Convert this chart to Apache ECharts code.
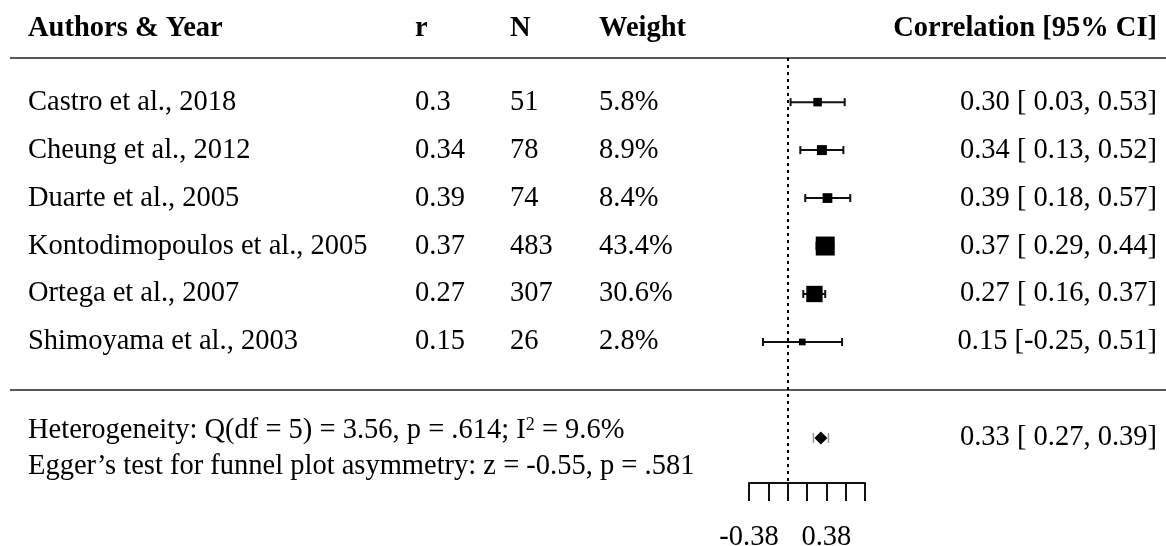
<!DOCTYPE html>
<html>
<head>
<meta charset="utf-8">
<script src="https://cdn.jsdelivr.net/npm/echarts@6/dist/echarts.min.js"></script>
<style>
  html, body { margin: 0; padding: 0; background: #fff; }
  #main { width: 1166px; height: 546px; }
</style>
</head>
<body>
<div id="main"></div>
<script>
// 数据
const studies = ['Castro et al., 2018', 'Cheung et al., 2012', 'Duarte et al., 2005',
                 'Kontodimopoulos et al., 2005', 'Ortega et al., 2007', 'Shimoyama et al., 2003']
const rValues = [0.3, 0.34, 0.39, 0.37, 0.27, 0.15]
const sampleSizes = [51, 78, 74, 483, 307, 26]
const weights = [5.8, 8.9, 8.4, 43.4, 30.6, 2.8]
const ciLower = [0.03, 0.13, 0.18, 0.29, 0.16, -0.25]
const ciUpper = [0.53, 0.52, 0.57, 0.44, 0.37, 0.51]
const pooled = [0.33, 0.27, 0.39]   // estimate, lower, upper
const headers = ['Authors & Year', 'r', 'N', 'Weight', 'Correlation [95% CI]']
const heterogeneityText = 'Heterogeneity: Q(df = 5) = 3.56, p = .614; I{sup|2} = 9.6%'
const eggerText = 'Egger\u2019s test for funnel plot asymmetry: z = -0.55, p = .581'
// x axis is on the Fisher z scale, labels are back-transformed
const axisTicks = [-0.4, -0.2, 0, 0.2, 0.4, 0.6, 0.8]
const axisTickLabels = ['-0.38', '', '', '', '0.38', '', '']

const FONT = "'Liberation Serif', 'Times New Roman', serif"
const FS = 28.5
const colX = [28, 415, 510, 599, 1157]
const headerRow = -1.53
const sepRow = 6
const summaryRow = 7

const fz = v => Math.atanh(v)
const fmt = v => (v < 0 ? '' : ' ') + v.toFixed(2)
const ciText = (e, l, h) => e.toFixed(2) + ' [' + fmt(l) + ', ' + h.toFixed(2) + ']'

let myChart = echarts.init(document.getElementById('main'))

const studyData = rValues.map((r, i) => [fz(r), i, fz(ciLower[i]), fz(ciUpper[i]), weights[i]])

function textEl(x, y, text, align, bold) {
  return {
    type: 'text',
    x: x, y: y,
    style: {
      text: text,
      fill: '#000',
      font: (bold ? 'bold ' : '') + FS + 'px ' + FONT,
      align: align || 'left',
      verticalAlign: 'middle'
    }
  }
}

let option = {
  animation: false,
  grid: { left: 749, right: 301, top: 58, bottom: 63, containLabel: false, outerBoundsMode: 'none' },
  xAxis: {
    type: 'value',
    min: -0.4, max: 0.8, interval: 0.2,
    splitLine: { show: false },
    axisLine: { onZero: false, lineStyle: { color: '#111', width: 2 } },
    axisTick: { length: 18, lineStyle: { color: '#111', width: 2 } },
    axisLabel: {
      margin: 40,
      color: '#000',
      fontSize: FS,
      fontFamily: FONT,
      showMinLabel: true,
      showMaxLabel: true,
      formatter: function (v) {
        let idx = axisTicks.findIndex(t => Math.abs(t - v) < 1e-9)
        return idx >= 0 ? axisTickLabels[idx] : ''
      }
    }
  },
  yAxis: { type: 'value', inverse: true, min: -0.92, max: 7.94, show: false },
  series: [
    {
      // table text and rules
      type: 'custom',
      clip: false,
      silent: true,
      data: [[0]],
      renderItem: function (params, api) {
        let children = []
        let yh = api.coord([0, headerRow])[1]
        headers.forEach((h, k) => {
          children.push(textEl(colX[k], yh, h, k === 4 ? 'right' : 'left', true))
        })
        let ytop = api.coord([0, -0.92])[1]
        let ysep = api.coord([0, sepRow])[1]
        let ls = { stroke: '#222', lineWidth: 1.6 }
        children.push({ type: 'line', shape: { x1: 10, y1: ytop, x2: 1166, y2: ytop }, style: ls })
        children.push({ type: 'line', shape: { x1: 10, y1: ysep, x2: 1166, y2: ysep }, style: ls })
        studies.forEach((name, i) => {
          let y = api.coord([0, i])[1]
          children.push(textEl(colX[0], y, name))
          children.push(textEl(colX[1], y, String(rValues[i])))
          children.push(textEl(colX[2], y, String(sampleSizes[i])))
          children.push(textEl(colX[3], y, weights[i].toFixed(1) + '%'))
          children.push(textEl(colX[4], y, ciText(rValues[i], ciLower[i], ciUpper[i]), 'right'))
        })
        let ys = api.coord([0, summaryRow])[1]
        children.push({
          type: 'text', x: colX[0], y: api.coord([0, summaryRow - 0.15])[1],
          style: {
            text: heterogeneityText, fill: '#000', font: FS + 'px ' + FONT,
            verticalAlign: 'middle',
            rich: { sup: { fontSize: 18, fontFamily: FONT, verticalAlign: 'top', fill: '#000' } }
          }
        })
        children.push(textEl(colX[0], api.coord([0, summaryRow + 0.6])[1], eggerText))
        children.push(textEl(colX[4], ys, ciText(pooled[0], pooled[1], pooled[2]), 'right'))
        return { type: 'group', children: children }
      }
    },
    {
      // study estimates
      type: 'custom',
      data: studyData,
      clip: false,
      renderItem: function (params, api) {
        let y = api.coord([0, api.value(1)])[1]
        let xe = api.coord([api.value(0), 0])[0]
        let xl = api.coord([api.value(2), 0])[0]
        let xh = api.coord([api.value(3), 0])[0]
        let s = 2.5 * Math.sqrt(api.value(4)) + 2.5
        let st = { stroke: '#111', lineWidth: 2 }
        return {
          type: 'group',
          children: [
            { type: 'line', shape: { x1: xl, y1: y, x2: xh, y2: y }, style: st },
            { type: 'line', shape: { x1: xl, y1: y - 4, x2: xl, y2: y + 4 }, style: st },
            { type: 'line', shape: { x1: xh, y1: y - 4, x2: xh, y2: y + 4 }, style: st },
            { type: 'rect', shape: { x: xe - s / 2, y: y - s / 2, width: s, height: s }, style: { fill: '#000' } }
          ]
        }
      },
      markLine: {
        silent: true,
        symbol: 'none',
        label: { show: false },
        lineStyle: { type: [3, 4], color: '#000', width: 2 },
        data: [{ xAxis: 0 }]
      }
    },
    {
      // pooled diamond
      type: 'custom',
      data: [[fz(pooled[0]), summaryRow, fz(pooled[1]), fz(pooled[2])]],
      clip: false,
      renderItem: function (params, api) {
        let y = api.coord([0, api.value(1)])[1]
        let xe = api.coord([api.value(0), 0])[0]
        let xl = api.coord([api.value(2), 0])[0]
        let xh = api.coord([api.value(3), 0])[0]
        let g = { stroke: '#999', lineWidth: 1.5 }
        return {
          type: 'group',
          children: [
            { type: 'line', shape: { x1: xl - 1, y1: y - 5, x2: xl - 1, y2: y + 5 }, style: g },
            { type: 'line', shape: { x1: xh + 1, y1: y - 5, x2: xh + 1, y2: y + 5 }, style: g },
            { type: 'polygon', shape: { points: [[xl, y], [xe, y - 6.5], [xh, y], [xe, y + 6.5]] }, style: { fill: '#000' } }
          ]
        }
      }
    }
  ]
}

myChart.setOption(option)
window.addEventListener('resize', function () {
  myChart.resize()
}, false)
</script>
</body>
</html>
